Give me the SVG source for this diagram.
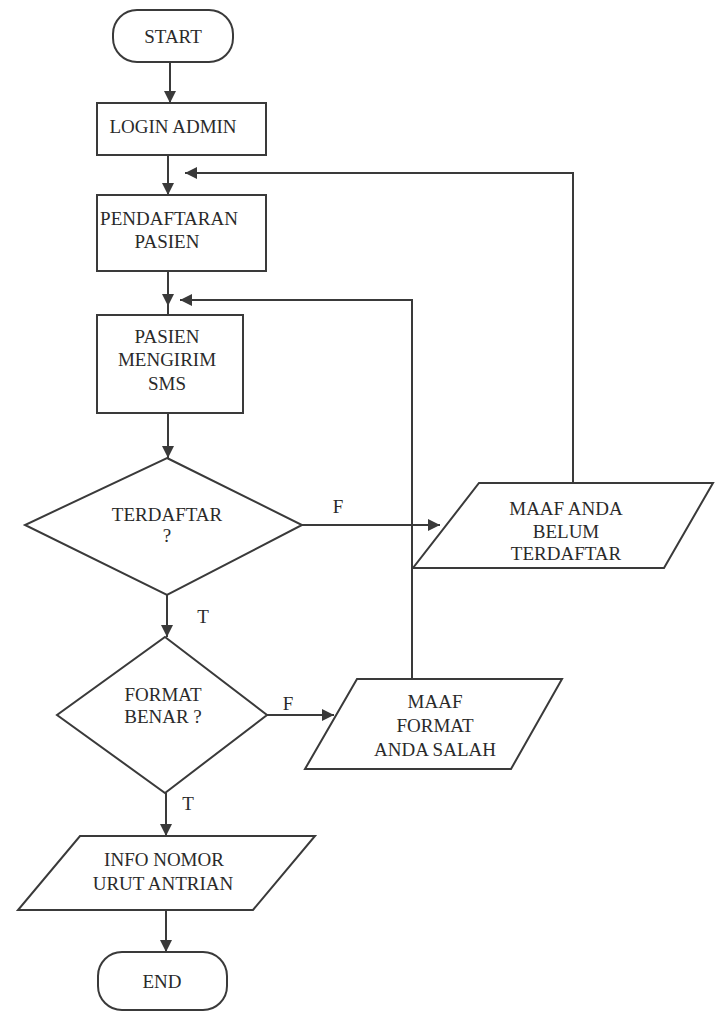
<svg xmlns="http://www.w3.org/2000/svg" width="715" height="1014" viewBox="0 0 715 1014">
  <style>
    .shape { fill: #ffffff; stroke: #3a3a3a; stroke-width: 2; }
    .line { fill: none; stroke: #3a3a3a; stroke-width: 2; }
    .label { font-family: 'Liberation Serif', 'DejaVu Serif', serif; font-size: 19px; fill: #2a2a2a; text-anchor: middle; }
  </style>
  <defs>
    <marker id="arrow" viewBox="0 0 10 10" refX="10" refY="5" markerWidth="6" markerHeight="6" markerUnits="strokeWidth" orient="auto">
      <path d="M0,0 L10,5 L0,10 Z" fill="#3a3a3a"/>
    </marker>
  </defs>
  <rect width="715" height="1014" fill="#ffffff"/>

  <!-- connectors -->
  <g id="connectors">
    <line class="line" x1="170" y1="62" x2="170" y2="103" marker-end="url(#arrow)"/>
    <line class="line" x1="168" y1="155" x2="168" y2="195" marker-end="url(#arrow)"/>
    <line class="line" x1="168" y1="271" x2="168" y2="306" marker-end="url(#arrow)"/>
    <line class="line" x1="168" y1="300" x2="168" y2="315"/>
    <line class="line" x1="168" y1="413" x2="168" y2="458" marker-end="url(#arrow)"/>
    <line class="line" x1="167" y1="595" x2="167" y2="637" marker-end="url(#arrow)"/>
    <line class="line" x1="166" y1="793" x2="166" y2="836" marker-end="url(#arrow)"/>
    <line class="line" x1="166" y1="910" x2="166" y2="952" marker-end="url(#arrow)"/>
    <!-- F branches -->
    <line class="line" x1="302" y1="525" x2="440" y2="525" marker-end="url(#arrow)"/>
    <line class="line" x1="267" y1="715" x2="334" y2="715" marker-end="url(#arrow)"/>
    <!-- loop back: not registered -->
    <polyline class="line" points="573,483 573,173 185,173" marker-end="url(#arrow)"/>
    <!-- loop back: wrong format -->
    <polyline class="line" points="412,679 412,300 180,300" marker-end="url(#arrow)"/>
    <text class="label" x="338" y="513">F</text>
    <text class="label" x="203" y="623">T</text>
    <text class="label" x="288" y="710">F</text>
    <text class="label" x="188" y="810">T</text>
  </g>

  <g id="start">
    <rect class="shape" x="113" y="10" width="120" height="52" rx="24" ry="24"/>
    <text class="label" x="173" y="43">START</text>
  </g>

  <g id="login-admin">
    <rect class="shape" x="97" y="103" width="169" height="52"/>
    <text class="label" x="173" y="133">LOGIN ADMIN</text>
  </g>

  <g id="pendaftaran-pasien">
    <rect class="shape" x="97" y="195" width="169" height="76"/>
    <text class="label" x="169" y="225">PENDAFTARAN</text>
    <text class="label" x="167" y="248">PASIEN</text>
  </g>

  <g id="pasien-mengirim-sms">
    <rect class="shape" x="97" y="315" width="146" height="98"/>
    <text class="label" x="167" y="343">PASIEN</text>
    <text class="label" x="167" y="366">MENGIRIM</text>
    <text class="label" x="167" y="390">SMS</text>
  </g>

  <g id="terdaftar">
    <polygon class="shape" points="167,458 302,525 167,595 25,525"/>
    <text class="label" x="167" y="521">TERDAFTAR</text>
    <text class="label" x="167" y="542">?</text>
  </g>

  <g id="maaf-belum-terdaftar">
    <polygon class="shape" points="479,483 713,483 664,568 413,568"/>
    <text class="label" x="566" y="515">MAAF ANDA</text>
    <text class="label" x="566" y="538">BELUM</text>
    <text class="label" x="566" y="560">TERDAFTAR</text>
  </g>

  <g id="format-benar">
    <polygon class="shape" points="165,637 267,715 165,793 57,715"/>
    <text class="label" x="163" y="701">FORMAT</text>
    <text class="label" x="163" y="723">BENAR ?</text>
  </g>

  <g id="maaf-format-salah">
    <polygon class="shape" points="357,679 562,679 511,769 305,769"/>
    <text class="label" x="435" y="708">MAAF</text>
    <text class="label" x="435" y="732">FORMAT</text>
    <text class="label" x="435" y="756">ANDA SALAH</text>
  </g>

  <g id="info-nomor-urut">
    <polygon class="shape" points="80,836 315,836 253,910 18,910"/>
    <text class="label" x="164" y="866">INFO NOMOR</text>
    <text class="label" x="163" y="890">URUT ANTRIAN</text>
  </g>

  <g id="end">
    <rect class="shape" x="98" y="952" width="129" height="58" rx="24" ry="24"/>
    <text class="label" x="162" y="988">END</text>
  </g>
</svg>
